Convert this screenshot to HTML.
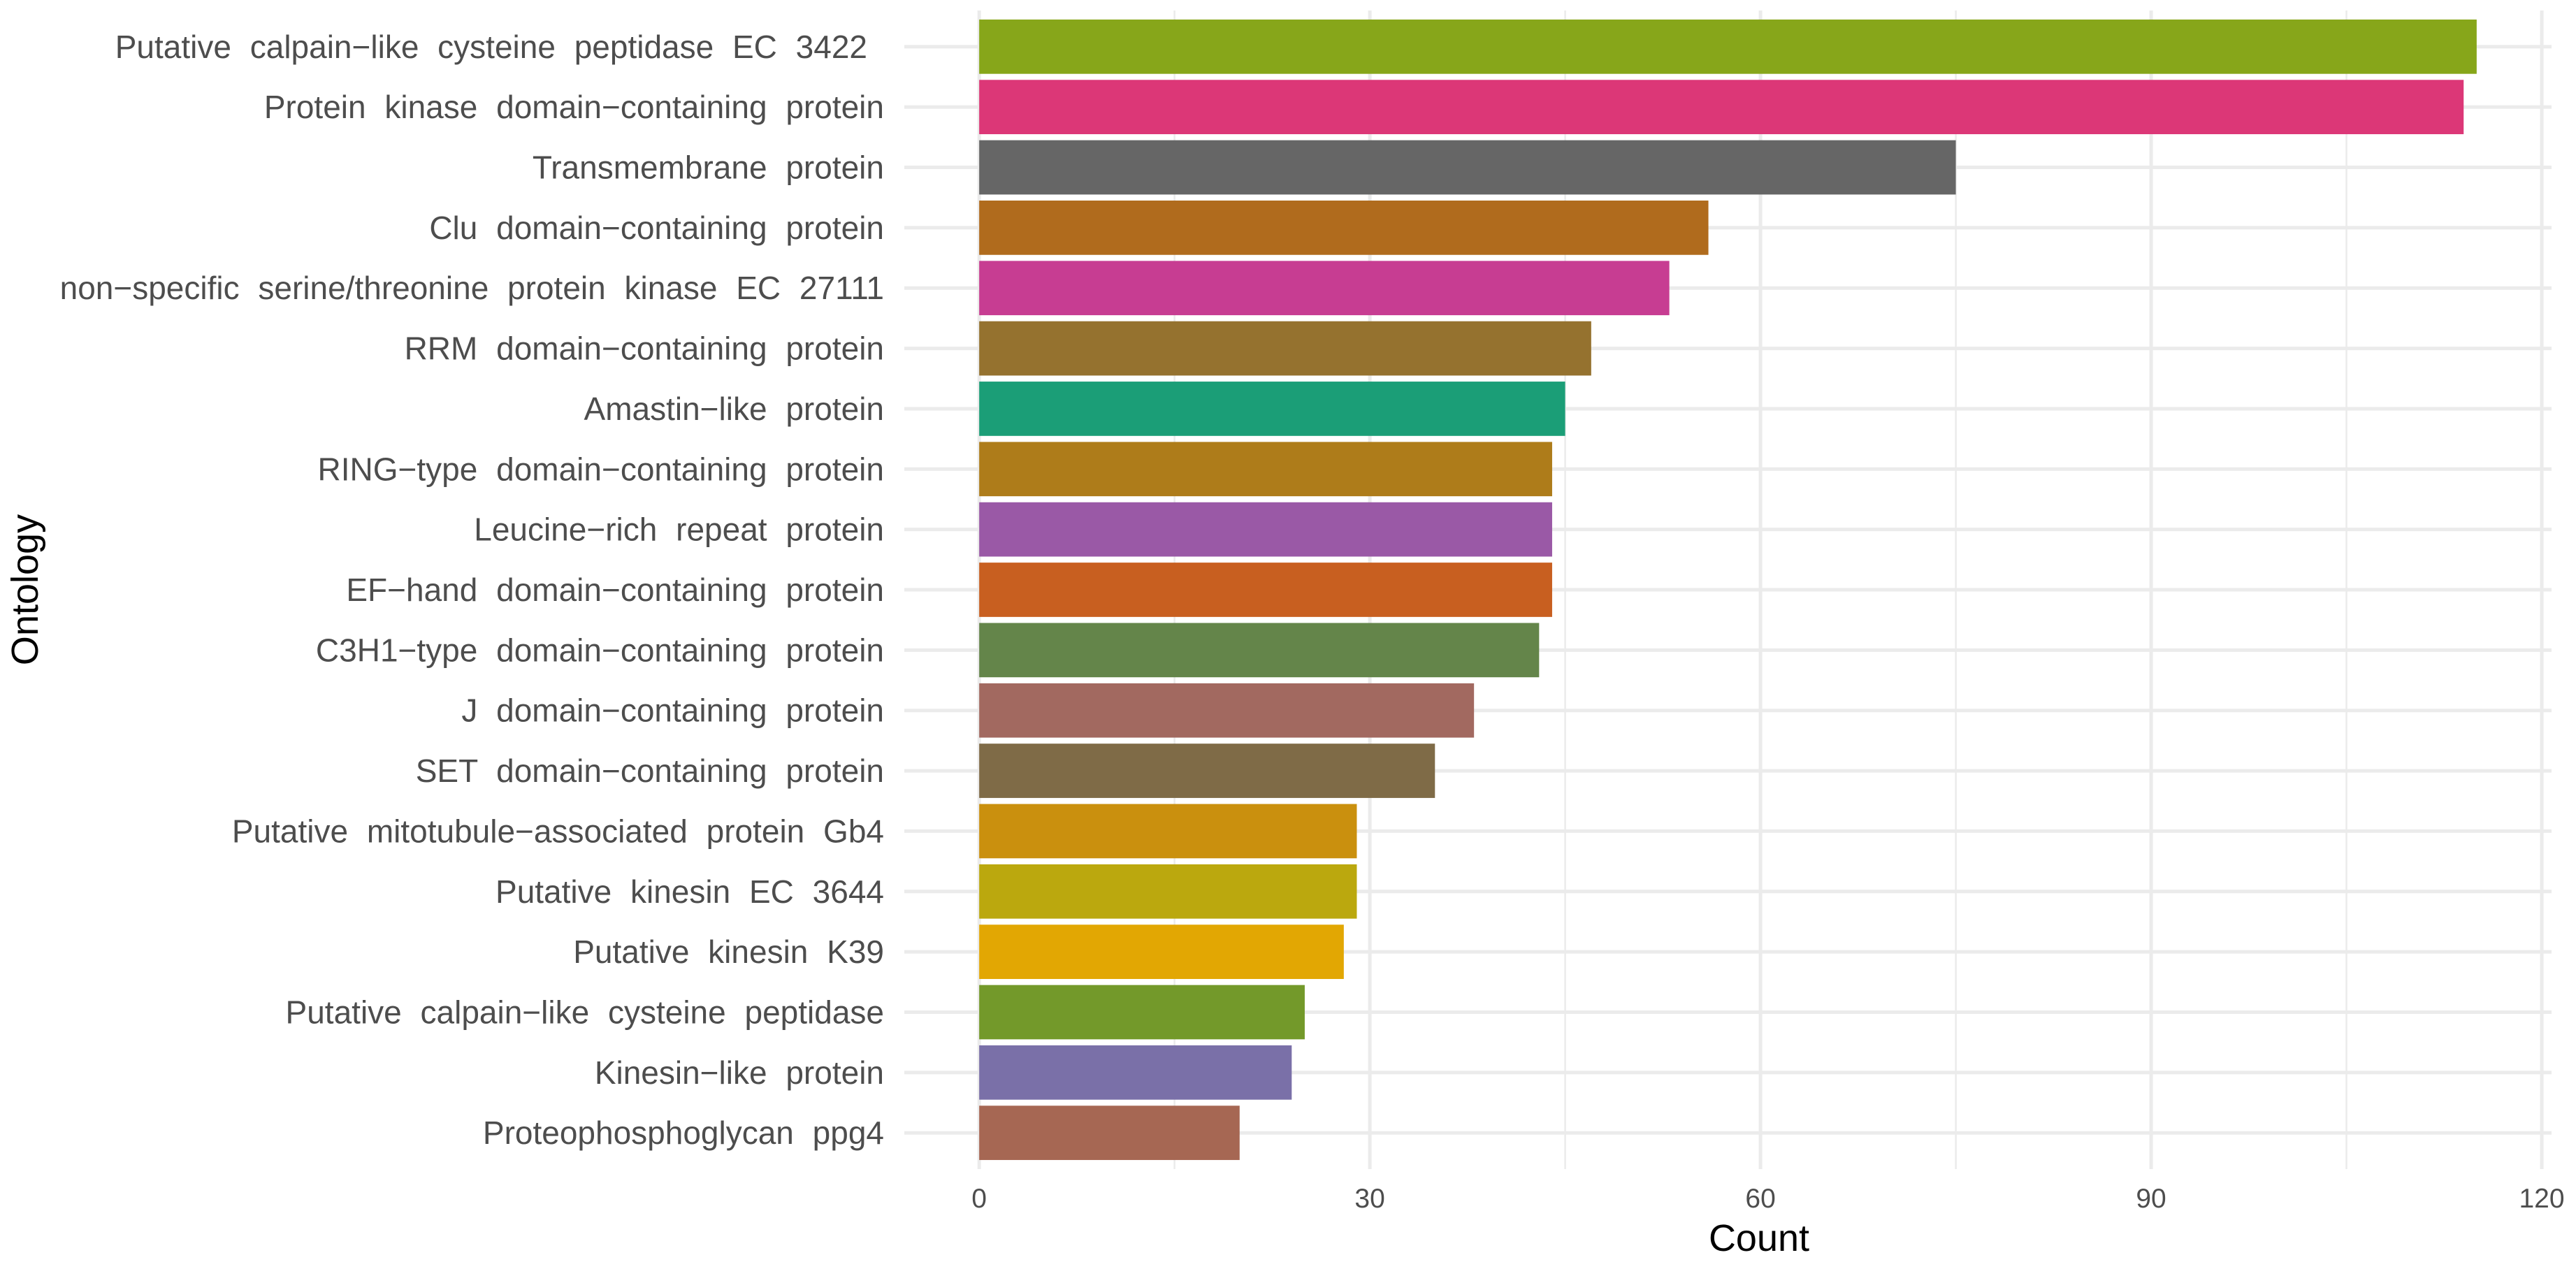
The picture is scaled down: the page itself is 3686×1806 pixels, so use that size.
<!DOCTYPE html>
<html><head><meta charset="utf-8"><style>
html,body{margin:0;padding:0;background:#fff}
svg{display:block}
text{font-family:"Liberation Sans",sans-serif}
</style></head><body>
<svg id="chart" width="3686" height="1806" viewBox="0 0 3686 1806" xmlns="http://www.w3.org/2000/svg">
<g id="grid"></g>
<g id="bars"></g>
<g id="ylabels"></g>
<g id="xlabels"></g>
<text x="2517" y="1790" font-size="54" text-anchor="middle" fill="#000">Count</text>
<text x="0" y="0" font-size="54" text-anchor="middle" fill="#000" transform="translate(54,844) rotate(-90)">Ontology</text>
</svg>
<script>
const categories = ["Putative calpain\u2212like cysteine peptidase EC 3422","Protein kinase domain\u2212containing protein","Transmembrane protein","Clu domain\u2212containing protein","non\u2212specific serine/threonine protein kinase EC 27111","RRM domain\u2212containing protein","Amastin\u2212like protein","RING\u2212type domain\u2212containing protein","Leucine\u2212rich repeat protein","EF\u2212hand domain\u2212containing protein","C3H1\u2212type domain\u2212containing protein","J domain\u2212containing protein","SET domain\u2212containing protein","Putative mitotubule\u2212associated protein Gb4","Putative kinesin EC 3644","Putative kinesin K39","Putative calpain\u2212like cysteine peptidase","Kinesin\u2212like protein","Proteophosphoglycan ppg4"];
const counts = [115,114,75,56,53,47,45,44,44,44,43,38,35,29,29,28,25,24,20];
const colors = ["#87A61A","#DC3777","#666666","#B06B1D","#C73D92","#95722F","#1B9E77","#AE7C1A","#9A59A6","#C85F20","#64854A","#A26960","#7F6B47","#CA900E","#BBA80E","#E2A703","#73992A","#7A70A8","#A66753"];
const xTicks = [0,30,60,90,120];
const xMinor = [15,45,75,105];

const NS="http://www.w3.org/2000/svg";
const pL=1294,pR=3651,pT=15,pB=1673;
const xmax=Math.max(...counts), lo=-0.05*xmax, hi=1.05*xmax;
const xs=v=>pL+(v-lo)/(hi-lo)*(pR-pL);
const n=categories.length;
const step=(pB-pT)/(n-1+1.2);
const ys=i=>pT+0.6*step+i*step;
function mk(tag,attrs,parent){const e=document.createElementNS(NS,tag);for(const k in attrs)e.setAttribute(k,attrs[k]);parent.appendChild(e);return e;}
const grid=document.getElementById('grid'),bars=document.getElementById('bars'),yl=document.getElementById('ylabels'),xl=document.getElementById('xlabels');
xMinor.forEach(v=>{const l=mk('line',{x1:xs(v),x2:xs(v),y1:pT,y2:pB,stroke:'#ebebeb','stroke-width':2.5},grid);

});
xTicks.forEach(v=>{const l=mk('line',{x1:xs(v),x2:xs(v),y1:pT,y2:pB,stroke:'#ebebeb','stroke-width':5},grid);


const t=mk('text',{x:xs(v),y:1728,'font-size':39,'text-anchor':'middle',fill:'#4d4d4d'},xl);t.textContent=v;

});
categories.forEach((c,i)=>{const y=ys(i);
const l=mk('line',{x1:pL,x2:pR,y1:y,y2:y,stroke:'#ebebeb','stroke-width':5},grid);


const r=mk('rect',{x:xs(0),y:y-0.45*step,width:xs(counts[i])-xs(0),height:0.9*step,fill:colors[i]},bars);


const t=mk('text',{x:(i===0?1241:1265),y:y+16,'font-size':46,'word-spacing':14,'text-anchor':'end',fill:'#4d4d4d'},yl);t.textContent=c;

});
</script>
</body></html>
